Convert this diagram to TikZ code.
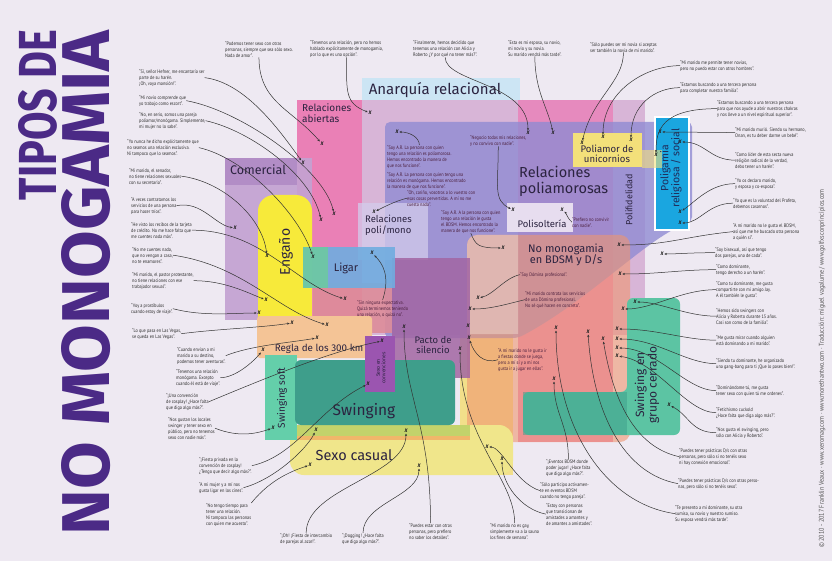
\documentclass[tikz,border=0pt]{standalone}
\usepackage{graphicx}
\usepackage{fontspec}
\setmainfont{Fira Sans}
\newfontfamily\qf[FakeStretch=0.86]{PT Sans}
\usetikzlibrary{arrows.meta}
\definecolor{bgc}{HTML}{EEE9F2}
\definecolor{anq}{HTML}{D8B5D7}
\definecolor{anqlab}{HTML}{CCE5F4}
\definecolor{abi}{HTML}{EA80B6}
\definecolor{pinkb}{HTML}{E68ABE}
\definecolor{ycol}{HTML}{F2DF8A}
\definecolor{poly}{HTML}{8E8AD2}
\definecolor{polimono}{HTML}{D3CCEC}
\definecolor{bdsm}{HTML}{EF9670}
\definecolor{beige}{HTML}{EED3C8}
\definecolor{polis}{HTML}{EFE7F3}
\definecolor{unic}{HTML}{F3E07A}
\definecolor{cyanc}{HTML}{1AA6E0}
\definecolor{tealc}{HTML}{5CC4A3}
\definecolor{teald}{HTML}{3E9E8B}
\definecolor{comer}{HTML}{C3A2D2}
\definecolor{comerlab}{HTML}{B28DC6}
\definecolor{engano}{HTML}{F7EA3A}
\definecolor{rose}{HTML}{DD8C99}
\definecolor{pacto}{HTML}{A266A3}
\definecolor{ligarb}{HTML}{70ADE0}
\definecolor{ligarg}{HTML}{6CCB9E}
\definecolor{regla}{HTML}{F4C496}
\definecolor{sexoc}{HTML}{F0E68B}
\definecolor{sexog}{HTML}{C3D36B}
\definecolor{sexoo}{HTML}{F1B76A}
\definecolor{swsoft}{HTML}{64CFAA}
\definecolor{swing}{HTML}{3E9E8B}
\definecolor{conv}{HTML}{9B55B0}
\definecolor{qtext}{HTML}{2D2D2D}
\definecolor{qin}{HTML}{4A1E3C}
\definecolor{xcol}{HTML}{222222}
\definecolor{lncol}{HTML}{333333}
\definecolor{labcol}{HTML}{2B2340}
\definecolor{navy}{HTML}{1F2D5C}
\definecolor{titcol}{HTML}{4B2A86}
\definecolor{credcol}{HTML}{555555}
\tikzset{
  qq/.style={anchor=north west, inner sep=0pt, align=left, font=\qf\fontsize{5}{6}\selectfont, text=qtext},
  qi/.style={qq, text=qin},
  xm/.style={inner sep=0.6pt, font=\qf\bfseries\itshape\fontsize{7}{7}\selectfont, text=xcol},
  cn/.style={draw=lncol, line width=0.5pt, -{Stealth[length=2.6pt,width=2.2pt]}},
  lab/.style={inner sep=0pt, align=center, text=labcol},
}
\begin{document}
\begin{tikzpicture}[x=1pt,y=-1pt]
\useasboundingbox (0,0) rectangle (832,561);
\fill[bgc] (0,0) rectangle (832,561);

% ---------- title and credits
\node[rotate=90, text=titcol, inner sep=0pt] (t1) at (38,115) {\resizebox{170pt}{38pt}{\bfseries TIPOS DE}};
\node[rotate=90, text=titcol, inner sep=0pt] (t2) at (86,283) {\resizebox{505pt}{48pt}{\bfseries NO MONOGAMIA}};
\node[rotate=90, anchor=west, inner sep=0pt, text=credcol, font=\qf\fontsize{7}{7.5}\selectfont] (cr) at (822,548) {© 2010 - 2017 Franklin Veaux · www.xeromag.com · www.morethantwo.com · Traducción: miguel vagalume / www.golfxsconprincipios.com};

% ---------- regions
\fill[anq] (297,100) rectangle (645,335);
\fill[anqlab] (362,78) rectangle (520,100);
\fill[abi] (297,100) rectangle (362,335);
\fill[pinkb] (518,100) rectangle (613,442);
\fill[ycol] (460,330) rectangle (513,475);
\fill[poly, opacity=.78, rounded corners=5] (385,122) -- (692,122) -- (692,222) .. controls (650,235) and (590,300) .. (518,338) -- (385,338) -- cycle;
\fill[polimono, opacity=.75] (358,203) rectangle (428,260);
\fill[bdsm, opacity=.6, rounded corners=10] (467,235) rectangle (630,442);
\fill[beige, opacity=.55] (467,334) [rounded corners=10] -- (467,235) [sharp corners] -- (518,235) -- (518,334) -- cycle;
\fill[polis, opacity=.9] (507,203) rectangle (573,232);
\fill[unic] (573,133) rectangle (642,167);
\filldraw[fill=cyanc, draw=white, line width=2pt] (655,117) rectangle (689,230);
\fill[unic, opacity=.6] (642,150) rectangle (662,168);
\fill[tealc, rounded corners=6] (627,298) -- (680,298) -- (680,435) -- (523,435) -- (523,392) -- (627,392) -- cycle;
\fill[teald, opacity=.5] (523,392) rectangle (627,435);
\fill[comer, opacity=.92] (225,158) rectangle (312,320);
\fill[comerlab] (225,158) rectangle (297,185);
\fill[engano, rounded corners=16] (258,195) rectangle (312,335);
\fill[pacto, opacity=.85] (392,258) rectangle (470,378);
\fill[rose, opacity=.9] (313,283) rectangle (392,333);
\fill[ligarb, opacity=.9] (303,247) rectangle (395,288);
\fill[ligarg, opacity=.85] (303,247) rectangle (328,288);
\fill[regla, rounded corners=3] (257,316) rectangle (372,358);
\fill[sexoc, rounded corners=14] (290,425) rectangle (513,475);
\fill[sexog] (290,425) rectangle (470,436);
\fill[sexoo] (290,436) rectangle (470,440);
\fill[swsoft] (265,355) rectangle (297,440);
\fill[swing, rounded corners=6] (295,360) rectangle (455,425);
\fill[conv] (365,336) rectangle (395,392);

% ---------- labels
\node[lab, font=\fontsize{15}{15}\selectfont] (lanq) at (435,90) {Anarquía relacional};
\node[lab, anchor=north west, align=left, font=\fontsize{10}{10.5}\selectfont] (labi) at (302,104) {Relaciones\\abiertas};
\node[lab, font=\fontsize{12.5}{12.5}\selectfont] (lcom) at (258,170) {Comercial};
\node[lab, rotate=90, font=\fontsize{14}{14}\selectfont] (leng) at (286,252) {Engaño};
\node[lab, font=\fontsize{11}{11}\selectfont] (llig) at (346,268) {Ligar};
\node[lab, anchor=north west, align=left, font=\fontsize{9.5}{10.5}\selectfont] (lpm) at (365,215) {Relaciones\\poli/mono};
\node[lab, font=\fontsize{9.8}{10}\selectfont] (lreg) at (319,349) {Regla de los 300 km};
\node[lab, font=\fontsize{9.5}{10}\selectfont] (lpac) at (433,345) {Pacto de\\silencio};
\node[lab, font=\fontsize{15.5}{15.5}\selectfont] (lsw) at (364,411) {Swinging};
\node[lab, font=\fontsize{14.5}{14.5}\selectfont] (lsc) at (354,455) {Sexo casual};
\node[lab, rotate=90, font=\fontsize{10}{10}\selectfont] (lss) at (282,398) {Swinging soft};
\node[lab, rotate=90, font=\fontsize{5}{5.5}\selectfont] (lconv) at (381,368) {Sexo en\\convenciones};
\node[lab, anchor=north west, align=left, font=\fontsize{14.5}{15.5}\selectfont] (lpoly) at (519,166) {Relaciones\\poliamorosas};
\node[lab, font=\fontsize{9.5}{9.5}\selectfont] (lpols) at (542,224) {Polisoltería};
\node[lab, font=\fontsize{11}{11.5}\selectfont] (lbd) at (566,255) {No monogamia\\en BDSM y D/s};
\node[lab, font=\fontsize{9.6}{10}\selectfont] (luni) at (607,154) {Poliamor de\\unicornios};
\node[lab, rotate=90, font=\fontsize{9}{9}\selectfont] (lpf) at (629,200) {Polifidelidad};
\node[lab, rotate=90, text=navy, font=\fontsize{10.5}{11}\selectfont] (lpg) at (671,168) {Poligamia\\religiosa / social};
\node[lab, rotate=90, font=\fontsize{12}{12.5}\selectfont] (lsgc) at (647,385) {Swinging en\\grupo cerrado};

% ---------- x marks
\node[xm] (xa) at (370,113) {x};
\node[xm] (xb) at (322,144) {x};
\node[xm] (xc) at (303,163) {x};
\node[xm] (xd) at (397,132) {x};
\node[xm] (xe) at (528,133) {x};
\node[xm] (xf) at (553,133) {x};
\node[xm] (xg) at (582,143) {x};
\node[xm] (xh) at (603,137) {x};
\node[xm] (xi) at (631,140) {x};
\node[xm] (xj) at (660,132) {x};
\node[xm] (xk) at (680,142) {x};
\node[xm] (xl) at (656,155) {x};
\node[xm] (xm0) at (235,228) {x};
\node[xm] (xn) at (267,256) {x};
\node[xm] (xo) at (266,300) {x};
\node[xm] (xp) at (259,313) {x};
\node[xm] (xq) at (263,350) {x};
\node[xm] (xr) at (321,220) {x};
\node[xm] (xs) at (334,214) {x};
\node[xm] (xt) at (374,212) {x};
\node[xm] (xu) at (313,257) {x};
\node[xm] (xv) at (372,253) {x};
\node[xm] (xw) at (345,299) {x};
\node[xm] (xx) at (327,325) {x};
\node[xm] (xy) at (292,323) {x};
\node[xm] (xz) at (317,338) {x};
\node[xm] (xA) at (382,341) {x};
\node[xm] (xB) at (404,327) {x};
\node[xm] (xC) at (460,349) {x};
\node[xm] (xD) at (468,326) {x};
\node[xm] (xE) at (513,210) {x};
\node[xm] (xF) at (562,210) {x};
\node[xm] (xG) at (503,248) {x};
\node[xm] (xH) at (619,245) {x};
\node[xm] (xI) at (620,274) {x};
\node[xm] (xJ) at (478,298) {x};
\node[xm] (xK) at (470,309) {x};
\node[xm] (xL) at (623,309) {x};
\node[xm] (xM) at (635,302) {x};
\node[xm] (xN) at (469,338) {x};
\node[xm] (xO) at (556,328) {x};
\node[xm] (xP) at (588,332) {x};
\node[xm] (xQ) at (603,339) {x};
\node[xm] (xR) at (617,329) {x};
\node[xm] (xS) at (617,339) {x};
\node[xm] (xT) at (617,348) {x};
\node[xm] (xU) at (617,356) {x};
\node[xm] (xV) at (680,212) {x};
\node[xm] (xW) at (680,223) {x};
\node[xm] (xX) at (662,254) {x};
\node[xm] (xY) at (273,428) {x};
\node[xm] (xZ) at (368,384) {x};
\node[xm] (x1) at (316,430) {x};
\node[xm] (x2) at (406,431) {x};
\node[xm] (x3) at (310,465) {x};
\node[xm] (x4) at (419,466) {x};
\node[xm] (x5) at (554,379) {x};
\node[xm] (x6) at (487,447) {x};
\node[xm] (x7) at (502,459) {x};
\node[xm] (x8) at (669,405) {x};

% ---------- quotes
\node[qq] (q1) at (225,41) {“Podemos tener sexo con otras\\personas, siempre que sea sólo sexo.\\Nada de amor”.};
\node[qq] (q2) at (139,69) {“Sí, señor Hefner, me encantaría ser\\parte de su harén.\\¡Oh, vaya mansión!”.};
\node[qq] (q3) at (139,95) {“Mi novio comprende que\\yo trabajo como escort”.};
\node[qq] (q4) at (139,112) {“No, en serio, somos una pareja\\poliamor/monógama. Simplemente,\\mi mujer no lo sabe”.};
\node[qq] (q5) at (127,139) {“Yo nunca he dicho explícitamente que\\no seamos una relación exclusiva.\\Ni tampoco que lo seamos”.};
\node[qq] (q6) at (129,168) {“Mi marido, el senador,\\no tiene relaciones sexuales\\con su secretaria”.};
\node[qq] (q7) at (131,197) {“A veces contratamos los\\servicios de una persona\\para hacer tríos”.};
\node[qq] (q8) at (131,222) {“He visto los recibos de la tarjeta\\de crédito. No me hace falta que\\me cuentes nada más”.};
\node[qq] (q9) at (132,247) {“No me cuentes nada,\\que no vengan a casa,\\no te enamores”.};
\node[qq] (q10) at (132,272) {“Mi marido, el pastor protestante,\\no tiene relaciones con ese\\trabajador sexual”.};
\node[qq] (q11) at (131,303) {“Voy a prostíbulos\\cuando estoy de viaje”.};
\node[qq] (q12) at (132,328) {“Lo que pasa en Las Vegas,\\se queda en Las Vegas”.};
\node[qq] (q13) at (177,347) {“Cuando envían a mi\\marido a su destino,\\podemos tener aventuras”.};
\node[qq] (q14) at (176,369) {“Tenemos una relación\\monógama. Excepto\\cuando él está de viaje”.};
\node[qq] (q15) at (166,393) {“¡Una convención\\de cosplay! ¿Hace falta\\que diga algo más?”.};
\node[qq] (q16) at (168,417) {“Nos gustan los locales\\swinger y tener sexo en\\público, pero no tenemos\\sexo con nadie más”.};
\node[qq] (q17) at (199,457) {“¡Fiesta privada en la\\convención de cosplay!\\¿Tengo que decir algo más?”.};
\node[qq] (q18) at (199,482) {“A mi mujer y a mí nos\\gusta ligar en los cines”.};
\node[qq] (q19) at (206,503) {“No tengo tiempo para\\tener una relación.\\Ni tampoco las personas\\con quien me acuesto”.};
\node[qq] (q20) at (280,533) {“¡Oh! ¡Fiesta de intercambio\\de parejas al azar!”.};
\node[qq] (q21) at (342,533) {“¡Dogging! ¿Hace falta\\que diga algo más?”.};
\node[qq] (q22) at (409,523) {“Puedes estar con otras\\personas, pero prefiero\\no saber los detalles”.};
\node[qq] (q23) at (490,523) {“Mi marido no es gay,\\simplemente va a la sauna\\los fines de semana”.};
\node[qq] (q24) at (546,459) {“¡Eventos BDSM donde\\poder jugar! ¿Hace falta\\que diga algo más?”.};
\node[qq] (q25) at (540,482) {“Sólo participo activamen-\\te en eventos BDSM\\cuando no tengo pareja”.};
\node[qq] (q26) at (546,503) {“Estoy con personas\\que transicionan de\\amistades a amantes y\\de amantes a amistades”.};
\node[qq] (q27) at (679,448) {“Puedes tener prácticas D/s con otras\\personas, pero sólo si no tenéis sexo\\ni hay conexión emocional”.};
\node[qq] (q28) at (678,478) {“Puedes tener prácticas D/s con otras perso-\\nas, pero sólo si no tenéis sexo”.};
\node[qq] (q29) at (675,505) {“Te presento a mi dominante, su otra\\sumisa, su novio y nuestro sumiso.\\Su esposa vendrá más tarde”.};
\node[qq] (q30) at (716,407) {“Fetichismo cuckold\\¿Hace falta que diga algo más?”.};
\node[qq] (q31) at (716,427) {“Nos gusta el swinging, pero\\sólo con Alicia y Roberto”.};
\node[qq] (q32) at (716,385) {“Dominándome tú, me gusta\\tener sexo con quien tú me ordenes”.};
\node[qq] (q33) at (716,358) {“Siendo tu dominante, he organizado\\una gang-bang para ti ¡Que lo pases bien!”.};
\node[qq] (q34) at (716,335) {“Me gusta mirar cuando alguien\\está dominando a mi marido”.};
\node[qq] (q35) at (716,308) {“Hemos sido swingers con\\Alicia y Roberto durante 15 años.\\Casi son como de la familia”.};
\node[qq] (q36) at (716,281) {“Como tu dominante, me gusta\\compartirte con mi amigo Jay.\\A él también le gusta”.};
\node[qq] (q37) at (716,264) {“Como dominante,\\tengo derecho a un harén”.};
\node[qq] (q38) at (715,247) {“Soy bisexual, así que tengo\\dos parejas, una de cada”.};
\node[qq] (q39) at (733,223) {“A mi marido no le gusta el BDSM,\\así que me he buscado otra persona\\a quién sí”.};
\node[qq] (q40) at (733,198) {“Ya que es la voluntad del Profeta,\\debemos casarnos”.};
\node[qq] (q41) at (735,178) {“Yo os declaro marido,\\y esposa y co-esposa”.};
\node[qq] (q42) at (735,152) {“Como líder de esta secta nueva\\religión radical de la verdad,\\debo tener un harén”.};
\node[qq] (q43) at (735,127) {“Mi marido murió. Siendo su hermano,\\Onan, es tu deber darme un bebé”.};
\node[qq] (q44) at (717,100) {“Estamos buscando a una tercera persona\\para que nos ayude a abrir nuestros chakras\\y nos lleve a un nivel espiritual superior”.};
\node[qq] (q45) at (680,82) {“Estamos buscando a una tercera persona\\para completar nuestra familia”.};
\node[qq] (q46) at (680,60) {“Mi marido me permite tener novias,\\pero no puedo estar con otros hombres”.};
\node[qq] (q47) at (590,42) {“Sólo puedes ser mi novia si aceptas\\ser también la novia de mi marido”.};
\node[qq] (q48) at (508,40) {“Esta es mi esposa, su novio,\\mi novio y su novia.\\Su marido vendrá más tarde”.};
\node[qq] (q49) at (413,40) {“Finalmente, hemos decidido que\\tenemos una relación con Alicia y\\Roberto ¿Y por qué no tener más?”.};
\node[qq] (q50) at (310,40) {“Tenemos una relación, pero no hemos\\hablado explícitamente de monogamia,\\por lo que es una opción”.};
\node[qi] (q51) at (387,145) {“Soy A.R. La persona con quien\\tengo una relación es poliamorosa.\\Hemos encontrado la manera de\\que nos funcione”.};
\node[qi] (q52) at (387,172) {“Soy A.R. La persona con quien tengo una\\relación es monógama. Hemos encontrado\\la manera de que nos funcione”.};
\node[qi] (q53) at (470,135) {“Negocio todas mis relaciones,\\y no convivo con nadie”.};
\node[qi] (q54) at (407,190) {“Oh, cariño, vosotros a lo vuestro con\\esas cosas pervertidas. A mí no me\\cuesta nada”.};
\node[qi] (q55) at (441,210) {“Soy A.R. A la persona con quien\\tengo una relación le gusta\\el BDSM. Hemos encontrado la\\manera de que nos funcione”.};
\node[qi] (q56) at (572,217) {“Prefiero no convivir\\con nadie”.};
\node[qi] (q57) at (520,272) {“Soy Dómina profesional”.};
\node[qi] (q58) at (525,291) {“Mi marido contrata los servicios\\de una Dómina profesional.\\No sé qué hacen en concreto”.};
\node[qi] (q59) at (357,300) {“Sin ninguna expectativa.\\Quizá terminemos teniendo\\una relación, o quizá no”.};
\node[qi] (q60) at (498,348) {“A mi marido no le gusta ir\\a fiestas donde se juega,\\pero a mí sí y a mí nos\\gusta ir a jugar en ellas”.};

% ---------- connectors
\draw[cn] (q1.south) .. controls +(0,45) and +(-30,-35) .. (xb);
\draw[cn] (q2.east) .. controls +(40,5) and +(-25,-35) .. (xc);
\draw[cn] (q3.east) .. controls +(55,10) and +(-10,-45) .. (xs);
\draw[cn] (q4.east) .. controls +(45,10) and +(-10,-45) .. (xr);
\draw[cn] (q5.east) .. controls +(45,10) and +(-15,-45) .. (xu);
\draw[cn] (q6.east) .. controls +(40,5) and +(-5,-40) .. (xn);
\draw[cn] (q7.east) .. controls +(25,-5) and +(-20,-3) .. (xm0);
\draw[cn] (q8.east) .. controls +(70,0) and +(-50,-15) .. (xw);
\draw[cn] (q9.east) .. controls +(70,10) and +(-50,-15) .. (xx);
\draw[cn] (q10.east) .. controls +(30,0) and +(-20,-8) .. (xo);
\draw[cn] (q11.east) .. controls +(30,8) and +(-25,0) .. (xp);
\draw[cn] (q12.east) .. controls +(40,-5) and +(-35,5) .. (xy);
\draw[cn] (q13.east) .. controls +(25,-10) and +(-30,5) .. (xz);
\draw[cn] (q14.east) .. controls +(15,0) and +(-10,12) .. (xq);
\draw[cn] (q15.east) .. controls +(60,-25) and +(-50,10) .. (xA);
\draw[cn] (q16.east) .. controls +(25,10) and +(-15,5) .. (xY);
\draw[cn] (q17.east) .. controls +(45,-10) and +(-50,25) .. (xZ);
\draw[cn] (q18.east) .. controls +(30,-8) and +(-10,20) .. (x1);
\draw[cn] (q19.north east) .. controls +(20,-25) and +(-15,5) .. (x3);
\draw[cn] (q20.north) .. controls +(0,-45) and +(0,45) .. (x2);
\draw[cn] (q21.north) .. controls +(0,-30) and +(0,30) .. (x4);
\draw[cn] (q22.north) .. controls +(0,-100) and +(0,70) .. (xB);
\draw[cn] (q23.north) .. controls +(0,-45) and +(0,90) .. (xC);
\draw[cn] (q24.north) .. controls +(0,-35) and +(0,35) .. (x5);
\draw[cn] (q25.west) .. controls +(-25,-8) and +(15,0) .. (x6);
\draw[cn] (q26.west) .. controls +(-25,-5) and +(0,25) .. (x7);
\draw[cn] (q27.west) .. controls +(-45,-10) and +(10,60) .. (xQ);
\draw[cn] (q28.west) .. controls +(-55,-10) and +(5,80) .. (xP);
\draw[cn] (q29.west) .. controls +(-70,-10) and +(0,100) .. (xO);
\draw[cn] (q30.west) .. controls +(-30,0) and +(40,5) .. (xU);
\draw[cn] (q31.west) .. controls +(-25,0) and +(20,10) .. (x8);
\draw[cn] (q32.west) .. controls +(-30,0) and +(40,0) .. (xT);
\draw[cn] (q33.west) .. controls +(-30,0) and +(40,0) .. (xS);
\draw[cn] (q34.west) .. controls +(-30,0) and +(40,0) .. (xR);
\draw[cn] (q35.west) .. controls +(-30,0) and +(25,0) .. (xM);
\draw[cn] (q36.west) .. controls +(-35,0) and +(30,0) .. (xL);
\draw[cn] (q37.west) .. controls +(-35,0) and +(40,0) .. (xI);
\draw[cn] (q38.west) .. controls +(-25,0) and +(15,0) .. (xX);
\draw[cn] (q39.west) .. controls +(-50,5) and +(50,0) .. (xH);
\draw[cn] (q40.west) .. controls +(-25,0) and +(20,0) .. (xW);
\draw[cn] (q41.west) .. controls +(-25,0) and +(15,-10) .. (xV);
\draw[cn] (q42.west) .. controls +(-25,0) and +(25,0) .. (xk);
\draw[cn] (q43.west) .. controls +(-30,0) and +(30,0) .. (xj);
\draw[cn] (q44.west) .. controls +(-55,0) and +(0,-25) .. (xl);
\draw[cn] (q45.west) .. controls +(-25,0) and +(0,-35) .. (xi);
\draw[cn] (q46.west) .. controls +(-35,0) and +(0,-45) .. (xh);
\draw[cn] (q47.south) .. controls +(0,30) and +(10,-45) .. (xg);
\draw[cn] (q48.south) .. controls +(0,35) and +(-5,-25) .. (xf);
\draw[cn] (q49.south) .. controls +(0,25) and +(0,-50) .. (xe);
\draw[cn] (q50.south) .. controls +(0,35) and +(-25,-10) .. (xa);
\draw[cn] (q51.north) .. controls +(0,-8) and +(12,0) .. (xd);
\draw[cn] (q53.south) .. controls +(0,40) and +(-20,-10) .. (xE);
\draw[cn] (q54.west) .. controls +(-12,3) and +(10,-5) .. (xt);
\draw[cn] (q55.south) .. controls +(5,12) and +(-25,0) .. (xG);
\draw[cn] (q56.west) .. controls +(-4,-3) and +(4,3) .. (xF);
\draw[cn] (q57.west) .. controls +(-15,3) and +(15,-3) .. (xJ);
\draw[cn] (q58.west) .. controls +(-20,5) and +(20,0) .. (xK);
\draw[cn] (q59.north) .. controls +(8,-25) and +(10,10) .. (xv);
\draw[cn] (q60.west) .. controls +(-15,5) and +(5,15) .. (xN);
\end{tikzpicture}
\end{document}
